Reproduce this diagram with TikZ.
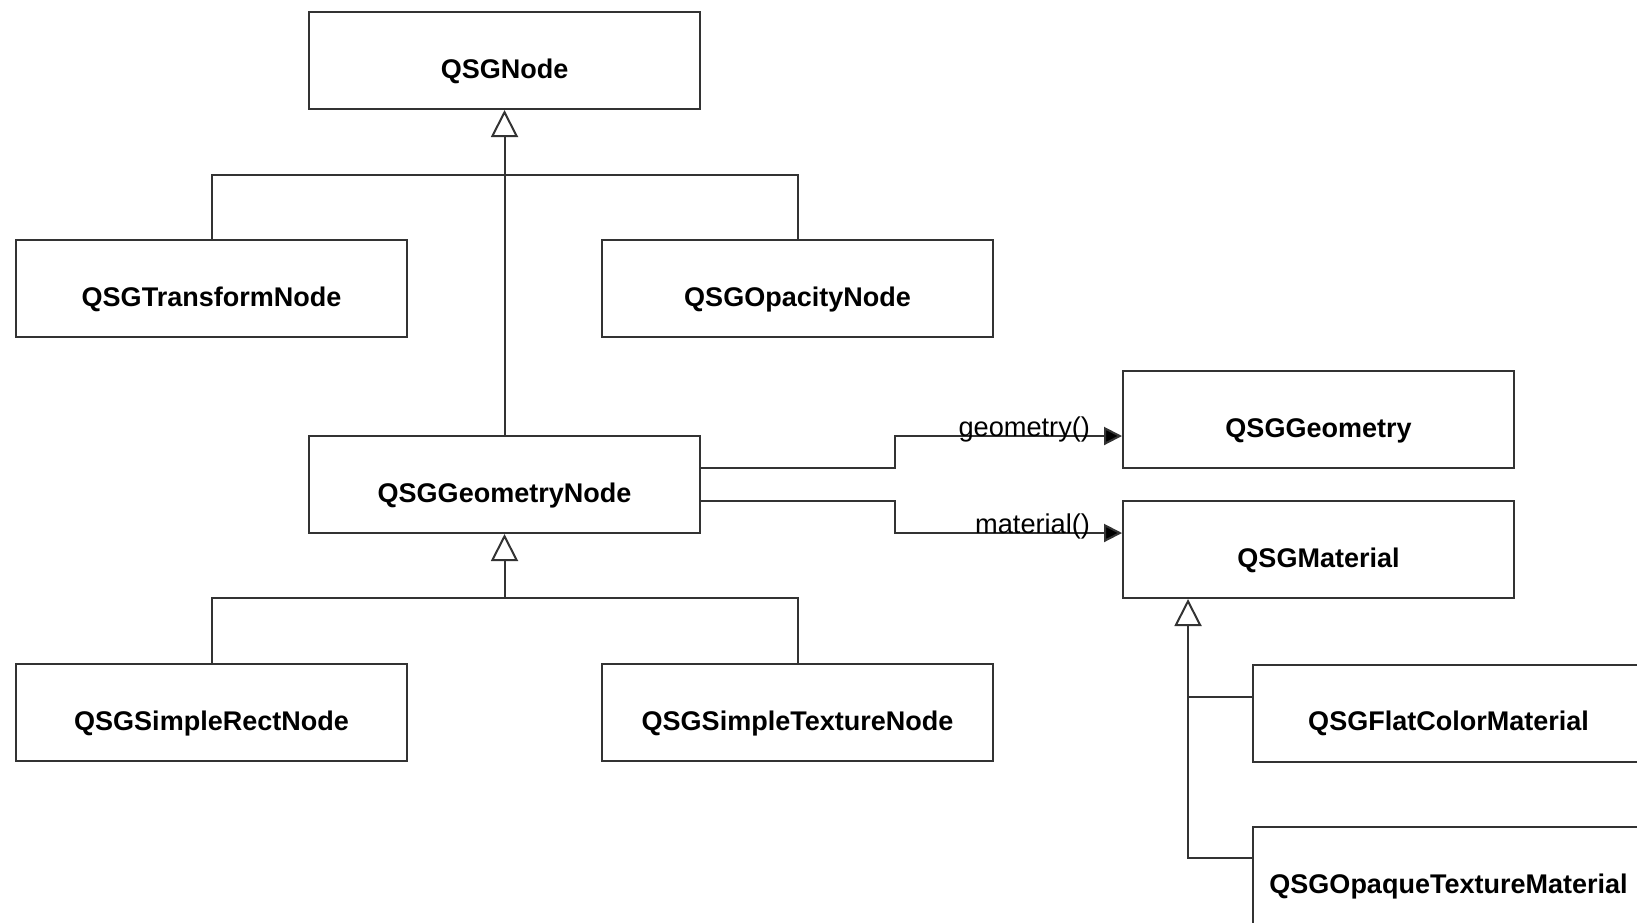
\documentclass[tikz,border=0pt]{standalone}
\usepackage{fontspec}
\setmainfont{Liberation Sans}
\usetikzlibrary{arrows.meta}

\begin{document}
\begin{tikzpicture}[x=0.5pt, y=-0.5pt,
	cls/.style={draw=black!80, line width=1pt, minimum width=195.5pt, minimum height=48.5pt,
		inner sep=0pt, text height=17.8pt, text depth=0pt, font=\fontsize{13.5}{16}\selectfont\bfseries},
	link/.style={draw=black!80, line width=1pt},
	inherit/.style={link, -{Triangle[open, length=13.5pt, width=13.5pt, fill=white]}},
	assoc/.style={link, -{Triangle[length=9pt, width=9pt, fill=black]}},
	lbl/.style={font=\fontsize{13.6}{15}\selectfont, inner sep=0pt}]
	\useasboundingbox (0,0) rectangle (1637,922);
	\clip (0,0) rectangle (1637,922);
	\foreach \name/\cx/\cy/\txt in {
		qsgnode/504.5/60.5/QSGNode,
		transform/211.5/288.5/QSGTransformNode,
		opacity/797.5/288.5/QSGOpacityNode,
		geomnode/504.5/484.5/QSGGeometryNode,
		geometry/1318.5/419.5/QSGGeometry,
		material/1318.5/549.5/QSGMaterial,
		rectnode/211.5/712.5/QSGSimpleRectNode,
		texnode/797.5/712.5/QSGSimpleTextureNode,
		flatmat/1448.5/713/QSGFlatColorMaterial,
		opaquemat/1448.5/875.5/QSGOpaqueTextureMaterial}
		\node[cls] (\name) at (\cx,\cy) {\txt};
	\coordinate (topbar) at (504.5,175);
	\coordinate (lowbar) at (504.5,598);
	\draw[inherit] (geomnode.north) -- (qsgnode.south);
	\draw[link] (transform.north) |- (topbar) -| (opacity.north);
	\draw[inherit] (lowbar) -- (geomnode.south);
	\draw[link] (rectnode.north) |- (lowbar) -| (texnode.north);
	\draw[inherit] ([yshift=-16pt]opaquemat.north west) -| ([xshift=33pt]material.south west);
	\draw[link] ([yshift=-16.5pt]flatmat.north west) -- ++(-32pt,0);
	\draw[assoc] ([yshift=8.25pt]geomnode.east) -- ++(97pt,0) |- ([yshift=-8.25pt]geometry.west)
		node[lbl, pos=1, anchor=base east, xshift=-15.5pt] {geometry()};
	\draw[assoc] ([yshift=-8.25pt]geomnode.east) -- ++(97pt,0) |- ([yshift=8.25pt]material.west)
		node[lbl, pos=1, anchor=base east, xshift=-15.5pt] {material()};
\end{tikzpicture}
\end{document}
